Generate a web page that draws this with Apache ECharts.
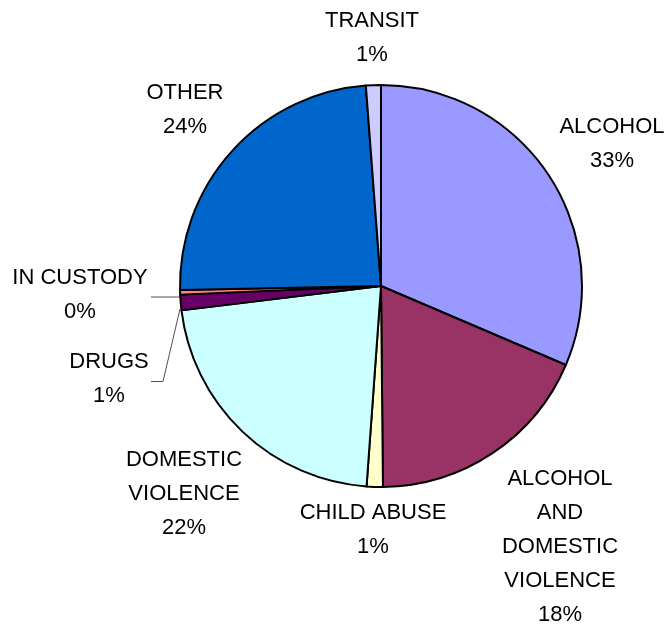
<!DOCTYPE html>
<html>
<head>
<meta charset="utf-8">
<script src="https://cdn.jsdelivr.net/npm/echarts@6/dist/echarts.min.js"></script>
<style>
html,body{margin:0;padding:0;background:#fff;}
#chart{width:672px;height:624px;}
</style>
</head>
<body>
<div id="chart"></div>
<script>
// Categories (clockwise from 12 o'clock)
const categories = ['ALCOHOL', 'ALCOHOL\nAND\nDOMESTIC\nVIOLENCE', 'CHILD ABUSE', 'DOMESTIC\nVIOLENCE', 'DRUGS', 'IN CUSTODY', 'OTHER', 'TRANSIT'];
// Slice sizes as drawn (percent of the circle)
const shares = [31.4, 18.4, 1.3, 21.9, 1.25, 0.36, 24.1, 1.2];
// Percent labels as printed
const percentLabels = ['33%', '18%', '1%', '22%', '1%', '0%', '24%', '1%'];
const colors = ['#9999FF', '#993366', '#FFFFCC', '#CCFFFF', '#660066', '#FF8080', '#0066CC', '#CCCCFF'];

// label placement (layout, not data)
const labelPos = [
  [612, 144], [560, 547], [373, 530], [184, 494], [109, 379], [80, 295], [185, 110], [372, 38]
];
const leaderLines = {
  4: [[180, 309], [163, 381.5], [151, 381.5]],
  5: [[180, 297], [166, 297], [151, 297]]
};

const chart = echarts.init(document.getElementById('chart'), null, {renderer: 'canvas'});
chart.setOption({
  animation: false,
  backgroundColor: '#fff',
  series: [{
    type: 'pie',
    center: [381, 286],
    radius: [0, 201],
    startAngle: 90,
    clockwise: true,
    avoidLabelOverlap: false,
    minAngle: 0,
    itemStyle: {borderColor: '#000', borderWidth: 2},
    label: {
      show: true,
      position: 'outside',
      fontFamily: '"Liberation Sans", Arial, sans-serif',
      fontSize: 22,
      lineHeight: 34,
      color: '#000',
      align: 'center'
    },
    labelLine: {show: true, lineStyle: {color: '#505050', width: 1}},
    labelLayout: function (p) {
      const i = p.dataIndex;
      const r = {x: labelPos[i][0], y: labelPos[i][1], align: 'center', verticalAlign: 'middle'};
      if (leaderLines[i]) r.labelLinePoints = leaderLines[i];
      return r;
    },
    data: categories.map((c, i) => ({
      name: c,
      value: shares[i],
      itemStyle: {color: colors[i]},
      label: {formatter: c + '\n' + percentLabels[i]},
      labelLine: {show: !!leaderLines[i]}
    }))
  }]
});
</script>
</body>
</html>
